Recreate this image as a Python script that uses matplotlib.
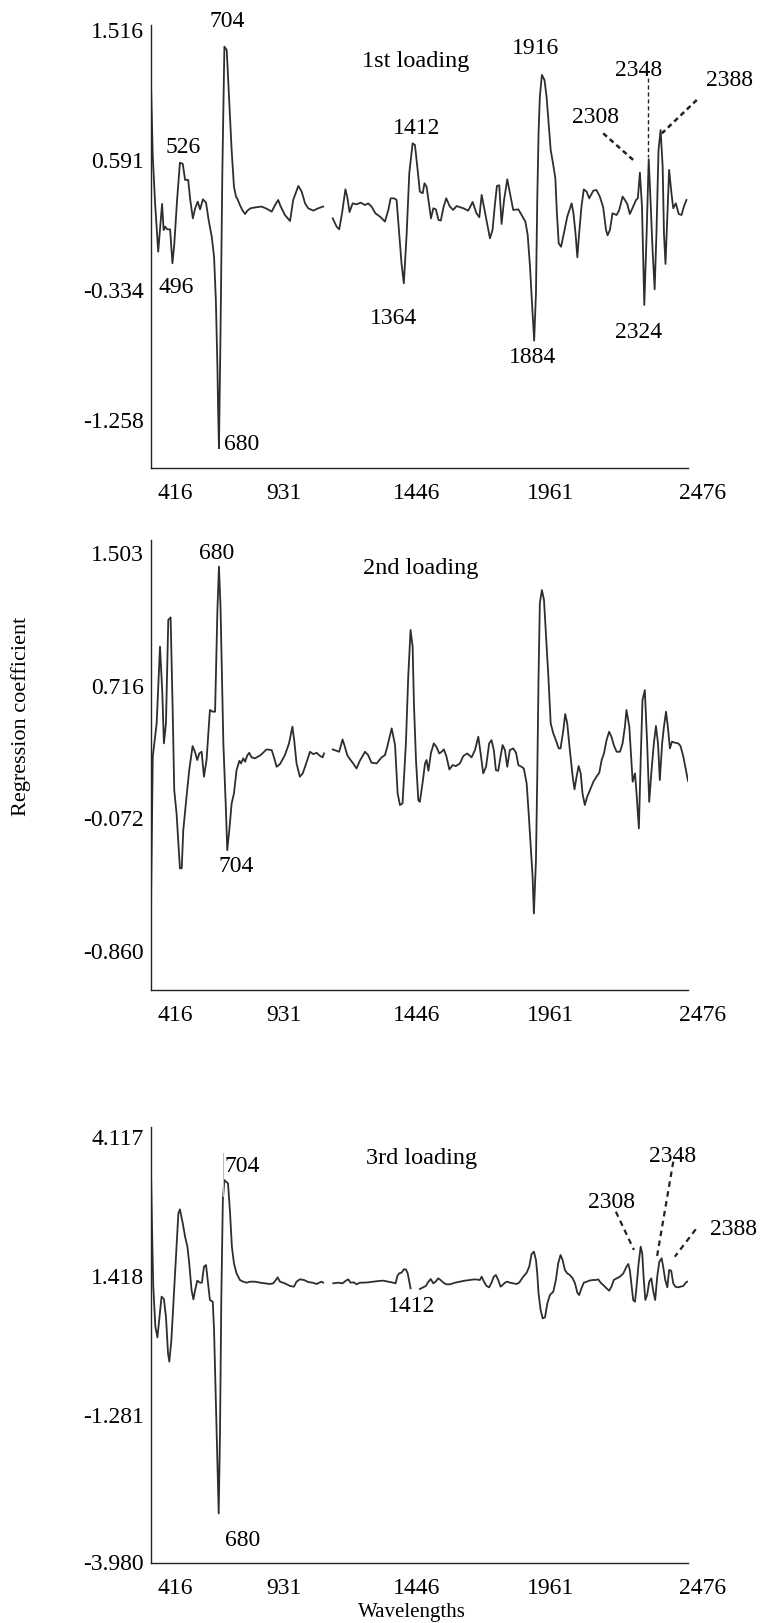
import numpy as np
import matplotlib
matplotlib.use("Agg")
import matplotlib.pyplot as plt
import matplotlib.transforms as mtransforms

plt.rcParams['font.family'] = ['Liberation Serif', 'DejaVu Serif']

nan = np.nan

# ---------------- data ----------------
wl_1 = [416, 424, 433, 445, 460, 466, 472, 480, 491, 500, 507, 518, 529, 540, 549, 561, 569, 579, 588, 598,
        607, 618, 630, 640, 652, 661, 668, 674, 677, 680, 686, 693, 701, 710, 717, 729, 738, 746, 752, 761,
        770, 781, 790, 802, 823, 845, 864, 884, 898, 909, 918, 935, 955, 967, 987, 1000, 1013, 1025, 1045, 1064,
        1083, 1100, 1120, 1135, 1145, 1156, 1169, 1176, 1185, 1197, 1212, 1228, 1245, 1257, 1270, 1285, 1303, 1322,
        1335, 1344, 1357, 1367, 1377, 1386, 1395, 1406, 1416, 1429, 1438, 1447, 1457, 1468, 1475, 1483, 1491, 1500,
        1509, 1519, 1529, 1538, 1549, 1559, 1573, 1586, 1599, 1625, 1644, 1661, 1676, 1687, 1696, 1705, 1715, 1728,
        1738, 1747, 1755, 1764, 1773, 1783, 1795, 1805, 1818, 1838, 1854, 1865, 1874, 1883, 1890, 1899, 1906, 1911,
        1916, 1921, 1929, 1939, 1947, 1955, 1963, 1973, 1981, 1987, 1994, 2003, 2014, 2027, 2044, 2051, 2059, 2066,
        2073, 2082, 2091, 2102, 2112, 2128, 2140, 2153, 2166, 2177, 2183, 2192, 2202, 2218, 2228, 2241, 2250, 2259,
        2269, 2282, 2293, 2300, 2308, 2316, 2325, 2334, 2342, 2349, 2357, 2365, 2372, 2380, 2388, 2396, 2401, 2407,
        2414, 2421, 2430, 2437, 2447, 2458, 2469, 2478, 2488]
coef_1 = [1.222, 0.617, 0.284, -0.060, 0.280, 0.094, 0.118, 0.099, 0.099, -0.143, -0.013, 0.308, 0.574, 0.565, 0.451,
          0.451, 0.308, 0.177, 0.249, 0.296, 0.241, 0.313, 0.289, 0.166, 0.047, -0.096, -0.405, -0.880, -1.212, -1.461,
          -0.642, 0.498, 1.401, 1.377, 1.116, 0.664, 0.403, 0.332, 0.313, 0.272, 0.237, 0.208, 0.232, 0.249, 0.256,
          0.261, 0.246, 0.225, 0.275, 0.308, 0.265, 0.201, 0.158, 0.308, 0.408, 0.367, 0.284, 0.249, 0.232, 0.249,
          0.261, nan, 0.177, 0.118, 0.099, 0.213, 0.384, 0.332, 0.222, 0.284, 0.277, 0.289, 0.272, 0.284, 0.261,
          0.213, 0.189, 0.154, 0.237, 0.320, 0.320, 0.308, 0.070, -0.143, -0.286, 0.070, 0.498, 0.712, 0.700, 0.546,
          0.367, 0.356, 0.427, 0.403, 0.296, 0.177, 0.249, 0.241, 0.166, 0.161, 0.261, 0.320, 0.261, 0.237, 0.265,
          0.249, 0.232, 0.294, 0.213, 0.185, 0.344, 0.256, 0.161, 0.035, 0.094, 0.272, 0.408, 0.413, 0.137, 0.313,
          0.455, 0.360, 0.237, 0.241, 0.189, 0.154, 0.059, -0.167, -0.405, -0.694, -0.357, 0.308, 0.783, 1.044, 1.199,
          1.163, 1.044, 0.854, 0.664, 0.557, 0.462, 0.213, -0.001, -0.025, 0.070, 0.189, 0.284, 0.213, 0.070, -0.100,
          0.070, 0.261, 0.384, 0.367, 0.320, 0.375, 0.379, 0.332, 0.256, 0.094, 0.056, 0.094, 0.213, 0.201, 0.237,
          0.332, 0.308, 0.280, 0.208, 0.261, 0.308, 0.320, 0.503, 0.261, -0.440, 0.070, 0.598, 0.308, -0.048, -0.328,
          0.070, 0.664, 0.807, 0.546, 0.070, -0.148, 0.189, 0.522, 0.356, 0.249, 0.284, 0.208, 0.201, 0.261, 0.308]

wl_2 = [416, 418, 424, 439, 452, 461, 467, 475, 484, 493, 501, 507, 516, 529, 536, 542, 552, 565, 578, 587, 596, 604,
        613, 622, 632, 645, 656, 665, 674, 680, 686, 697, 707, 712, 720, 729, 738, 748, 759, 765, 774, 781, 790, 797,
        806, 819, 841, 864, 884, 894, 903, 916, 935, 951, 964, 971, 980, 993, 1004, 1013, 1032, 1045, 1058, 1071,
        1081, 1086, 1100, 1120, 1135, 1145, 1158, 1167, 1176, 1187, 1199, 1212, 1225, 1245, 1257, 1270, 1290, 1309,
        1322, 1331, 1348, 1361, 1371, 1380, 1390, 1403, 1412, 1421, 1429, 1434, 1442, 1451, 1457, 1468, 1477, 1483,
        1490, 1500, 1511, 1522, 1532, 1541, 1550, 1560, 1571, 1584, 1596, 1612, 1625, 1640, 1657, 1670, 1683, 1692,
        1702, 1713, 1725, 1734, 1743, 1751, 1760, 1769, 1777, 1786, 1795, 1805, 1818, 1829, 1838, 1850, 1859, 1870,
        1877, 1885, 1893, 1898, 1906, 1911, 1916, 1921, 1929, 1937, 1945, 1954, 1963, 1973, 1983, 1994, 2001, 2012,
        2019, 2027, 2037, 2048, 2055, 2063, 2071, 2079, 2086, 2095, 2104, 2115, 2128, 2140, 2151, 2160, 2169, 2179,
        2189, 2198, 2207, 2218, 2231, 2241, 2250, 2256, 2267, 2275, 2280, 2289, 2295, 2304, 2311, 2318, 2327, 2336,
        2344, 2353, 2362, 2370, 2378, 2385, 2394, 2401, 2409, 2416, 2424, 2432, 2443, 2456, 2465, 2476, 2486, 2494]
coef_2 = [-0.930, -0.478, 0.294, 0.491, 0.947, 0.670, 0.373, 0.491, 1.105, 1.121, 0.571, 0.096, -0.043, -0.369,
          -0.369, -0.142, 0.016, 0.214, 0.357, 0.323, 0.274, 0.313, 0.323, 0.175, 0.274, 0.571, 0.561, 0.561, 1.164,
          1.422, 1.184, 0.373, -0.023, -0.261, -0.142, 0.016, 0.076, 0.214, 0.270, 0.254, 0.284, 0.264, 0.303, 0.317,
          0.290, 0.284, 0.303, 0.337, 0.333, 0.284, 0.234, 0.250, 0.303, 0.373, 0.472, 0.392, 0.254, 0.175, 0.195,
          0.234, 0.323, 0.309, 0.317, 0.298, 0.290, 0.313, nan, 0.337, 0.329, 0.323, 0.396, 0.353, 0.303, 0.278,
          0.254, 0.224, 0.270, 0.323, 0.303, 0.258, 0.254, 0.290, 0.303, 0.353, 0.462, 0.363, 0.076, 0.007, 0.016,
          0.373, 0.768, 1.046, 0.947, 0.610, 0.274, 0.036, 0.026, 0.145, 0.254, 0.274, 0.210, 0.317, 0.373, 0.349,
          0.313, 0.323, 0.337, 0.294, 0.218, 0.244, 0.238, 0.254, 0.298, 0.313, 0.290, 0.333, 0.412, 0.313, 0.195,
          0.234, 0.373, 0.392, 0.333, 0.214, 0.210, 0.294, 0.363, 0.333, 0.234, 0.333, 0.343, 0.317, 0.244, 0.234,
          0.224, 0.135, -0.023, -0.221, -0.419, -0.637, -0.320, 0.175, 0.769, 1.204, 1.283, 1.224, 1.006, 0.769,
          0.491, 0.432, 0.392, 0.343, 0.343, 0.452, 0.547, 0.491, 0.333, 0.175, 0.100, 0.175, 0.238, 0.195, 0.076,
          0.007, 0.056, 0.096, 0.145, 0.175, 0.199, 0.274, 0.313, 0.392, 0.442, 0.412, 0.363, 0.323, 0.323, 0.373,
          0.472, 0.571, 0.472, 0.274, 0.145, 0.195, 0.076, -0.132, 0.274, 0.630, 0.689, 0.373, 0.026, 0.214, 0.373,
          0.476, 0.373, 0.155, 0.373, 0.472, 0.561, 0.472, 0.343, 0.383, 0.377, 0.373, 0.357, 0.294, 0.214, 0.150]

wl_3 = [416, 418, 422, 426, 434, 442, 449, 458, 467, 475, 483, 488, 496, 503, 514, 523, 529, 540, 549, 558, 565, 574,
        581, 588, 596, 607, 614, 622, 630, 637, 645, 656, 661, 668, 674, 679, 684, 689, 695, 701, 707, 715, 723, 730,
        738, 748, 761, 774, 787, 800, 819, 839, 858, 877, 890, 900, 907, 916, 935, 955, 970, 980, 993, 1009, 1025,
        1042, 1058, 1068, 1077, 1083, 1100, 1122, 1141, 1158, 1171, 1180, 1189, 1202, 1212, 1225, 1238, 1257, 1277,
        1296, 1315, 1335, 1354, 1363, 1370, 1377, 1386, 1395, 1403, 1410, 1416, 1421, 1440, 1457, 1470, 1480, 1490,
        1499, 1509, 1518, 1528, 1537, 1548, 1560, 1573, 1593, 1612, 1631, 1651, 1670, 1689, 1696, 1705, 1715, 1725,
        1734, 1743, 1751, 1760, 1769, 1777, 1786, 1795, 1805, 1818, 1831, 1841, 1857, 1870, 1880, 1889, 1898, 1906,
        1911, 1916, 1924, 1932, 1941, 1950, 1960, 1973, 1983, 1992, 2001, 2009, 2018, 2027, 2037, 2048, 2057, 2066,
        2073, 2082, 2091, 2102, 2112, 2125, 2138, 2147, 2156, 2166, 2179, 2189, 2198, 2207, 2218, 2231, 2244, 2256,
        2263, 2269, 2276, 2282, 2289, 2295, 2303, 2311, 2317, 2323, 2329, 2336, 2344, 2352, 2360, 2367, 2375, 2383,
        2392, 2398, 2406, 2414, 2421, 2429, 2437, 2445, 2456, 2465, 2476, 2485, 2491]
coef_3 = [3.870, 3.222, 2.120, 1.212, 0.434, 0.227, 0.564, 1.018, 0.972, 0.629, -0.085, -0.246, 0.175, 0.823, 1.860,
          2.638, 2.716, 2.444, 2.184, 1.990, 1.666, 1.147, 0.966, 1.147, 1.329, 1.290, 1.290, 1.601, 1.633, 1.309,
          0.953, 0.920, 0.369, -0.992, -2.159, -3.196, -1.640, 0.953, 2.897, 3.286, 3.254, 3.222, 2.638, 1.990,
          1.666, 1.471, 1.342, 1.309, 1.290, 1.309, 1.309, 1.290, 1.277, 1.264, 1.277, 1.342, 1.394, 1.309, 1.277,
          1.225, 1.212, 1.309, 1.355, 1.342, 1.303, 1.290, 1.264, 1.290, 1.309, 1.290, nan, 1.277, 1.290, 1.277,
          1.329, 1.355, 1.290, 1.296, 1.258, 1.290, 1.290, 1.296, 1.309, 1.322, 1.329, 1.309, 1.290, 1.277, 1.420,
          1.471, 1.484, 1.549, 1.549, 1.471, 1.309, 1.180, nan, 1.167, 1.199, 1.225, 1.309, 1.361, 1.277, 1.309,
          1.374, 1.342, 1.290, 1.258, 1.257, 1.290, 1.309, 1.329, 1.342, 1.355, 1.342, 1.407, 1.309, 1.225, 1.199,
          1.290, 1.407, 1.439, 1.342, 1.212, 1.245, 1.290, 1.309, 1.290, 1.277, 1.264, 1.290, 1.407, 1.484, 1.601,
          1.847, 1.893, 1.731, 1.471, 1.082, 0.758, 0.596, 0.616, 0.888, 1.050, 1.115, 1.342, 1.666, 1.828, 1.731,
          1.536, 1.471, 1.439, 1.374, 1.277, 1.095, 1.050, 1.180, 1.290, 1.309, 1.329, 1.342, 1.342, 1.355, 1.290,
          1.245, 1.180, 1.134, 1.212, 1.342, 1.374, 1.407, 1.471, 1.601, 1.653, 1.536, 1.212, 0.953, 0.920, 1.212,
          1.666, 1.990, 1.860, 1.342, 0.953, 1.050, 1.309, 1.374, 1.115, 0.953, 1.407, 1.698, 1.763, 1.601, 1.342,
          1.199, 1.536, 1.523, 1.277, 1.212, 1.199, 1.212, 1.225, 1.290, 1.309]

x_ticks = [416, 931, 1446, 1961, 2476]
x_tick_labels = ['416', '931', '1446', '1961', '2476']
y_ticks_1 = [1.516, 0.591, -0.334, -1.258]
y_ticks_2 = [1.503, 0.716, -0.072, -0.860]
y_ticks_3 = [4.117, 1.418, -1.281, -3.980]
titles = ['1st loading', '2nd loading', '3rd loading']

# ---------------- layout ----------------
W, H = 761, 1623
fig = plt.figure(figsize=(W / 100, H / 100), dpi=100)


def make_ax(top_px, bot_px):
    left, right = 150.7, 688.0
    return fig.add_axes([left / W, 1 - bot_px / H, (right - left) / W, (bot_px - top_px) / H])


ax1 = make_ax(25, 468)
ax2 = make_ax(540, 990)
ax3 = make_ax(1127, 1563)

FS = 17
line_kw = dict(color='#2e2e2e', lw=1.3)
ylims = [(-1.602, 1.555), (-1.091, 1.580), (-4.161, 4.317)]
yticks = [y_ticks_1, y_ticks_2, y_ticks_3]


def shift(artist, dx_px, dy_px):
    artist.set_transform(artist.get_transform() +
                         mtransforms.ScaledTranslation(dx_px / 100, dy_px / 100, fig.dpi_scale_trans))


for ax, wl, cf, yl, yt in zip([ax1, ax2, ax3], [wl_1, wl_2, wl_3], [coef_1, coef_2, coef_3], ylims, yticks):
    ax.plot(wl, np.array(cf, dtype=float), **line_kw)
    ax.set_xlim(416, 2494)
    ax.set_ylim(*yl)
    for s in ['top', 'right']:
        ax.spines[s].set_visible(False)
    for s in ['left', 'bottom']:
        ax.spines[s].set_color('#222222')
        ax.spines[s].set_linewidth(1.0)
    ax.set_xticks(x_ticks)
    ax.set_xticklabels(x_tick_labels)
    ax.set_yticks(yt)
    ax.set_yticklabels([f'{v:.3f}' for v in yt])
    ax.tick_params(axis='x', length=0, pad=11, labelsize=FS)
    ax.tick_params(axis='y', length=0, pad=5, labelsize=FS)
    xl = ax.get_xticklabels()
    xl[0].set_horizontalalignment('left')
    shift(xl[0], 7, 0)
    xl[-1].set_horizontalalignment('left')
    shift(xl[-1], -4, 0)
    ax.set_facecolor('none')

# bottom label of the 3rd panel sits on the axis line in the reference
shift(ax3.get_yticklabels()[-1], 0, -8)

tk = dict(fontsize=FS, ha='center', va='center', clip_on=False)
ttl = dict(fontsize=17.5, ha='center', va='center', clip_on=False)

# panel 1 annotations
ax1.text(1442, 1.294, titles[0], **ttl)
ax1.text(711, 1.579, '704', **tk)
ax1.text(542, 0.681, '526', **tk)
ax1.text(514, -0.319, '496', **tk)
ax1.text(766, -1.433, '680', **tk)
ax1.text(1443, 0.819, '1412', **tk)
ax1.text(1354, -0.540, '1364', **tk)
ax1.text(1906, 1.389, '1916', **tk)
ax1.text(1892, -0.813, '1884', **tk)
ax1.text(2303, 1.230, '2348', **tk)
ax1.text(2653, 1.158, '2388', **tk)
ax1.text(2135, 0.897, '2308', **tk)
ax1.text(2303, -0.635, '2324', **tk)
ax1.plot([2340, 2340], [1.178, 0.614], color='#222222', lw=1.0, ls=(0, (3, 2)))
ax1.plot([2166, 2292], [0.783, 0.577], color='#222222', lw=1.8, ls=(0, (2, 1.5)))
ax1.plot([2528, 2393], [1.021, 0.783], color='#222222', lw=1.8, ls=(0, (2, 1.5)), clip_on=False)

# panel 2 annotations
ax2.text(1461, 1.412, titles[1], **ttl)
ax2.text(671, 1.501, '680', **tk)
ax2.text(745, -0.359, '704', **tk)

# panel 3 annotations
ax3.text(1464, 3.709, titles[2], **ttl)
ax3.text(703, 3.545, '704', fontsize=FS, ha='left', va='center')
ax3.plot([696, 696], [3.81, 2.98], color='#bbbbbb', lw=0.8)
ax3.text(703, -3.714, '680', fontsize=FS, ha='left', va='center', clip_on=False)
ax3.text(1426, 0.823, '1412', **tk)
ax3.text(2434, 3.753, '2348', **tk)
ax3.text(2197, 2.853, '2308', **tk)
ax3.text(2669, 2.328, '2388', **tk)
ax3.plot([2215, 2285], [2.670, 1.926], color='#222222', lw=1.6, ls=(0, (2.5, 2)))
ax3.plot([2437, 2373], [3.643, 1.764], color='#222222', lw=1.6, ls=(0, (2.5, 2)))
ax3.plot([2524, 2443], [2.328, 1.795], color='#222222', lw=1.6, ls=(0, (2.5, 2)), clip_on=False)

fig.text(20.7 / W, 1 - 716 / H, 'Regression coefficient', rotation=90, fontsize=16,
         ha='center', va='center')
fig.text(412 / W, 1 - 1612 / H, 'Wavelengths', fontsize=15, ha='center', va='center')

fig.savefig('out.png', dpi=100)
